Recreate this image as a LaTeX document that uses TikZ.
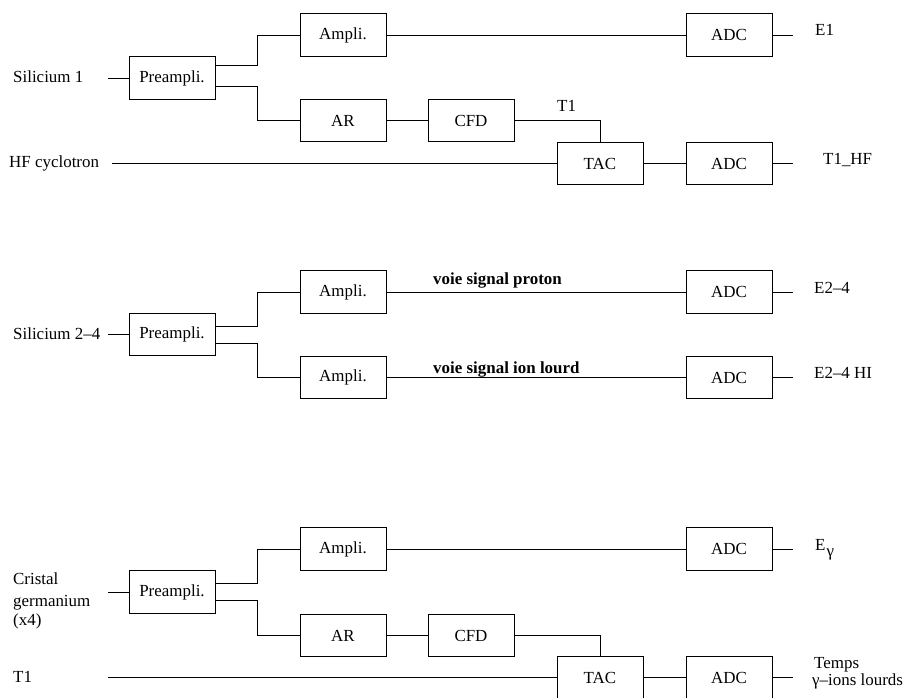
\documentclass[tikz,border=0pt]{standalone}
\usepackage{fontspec}
\setmainfont{Liberation Serif}

\tikzset{
  blk/.style={draw,line width=0.9bp,minimum width=86bp,minimum height=42.5bp,inner sep=0pt,font=\fontsize{17}{20}\selectfont},
  lbl/.style={inner sep=0pt,anchor=base west,font=\fontsize{17}{20}\selectfont},
  wire/.style={line width=0.9bp}
}

\begin{document}
\begin{tikzpicture}[x=1bp,y=-1bp]
  \useasboundingbox (0,0) rectangle (909,698);

  % Silicium 1
  \node[lbl] (si1) at (13,83) {Silicium 1};
  \coordinate (in1) at (108,78);
  \node[blk] (pre1) at (172,78) {Preampli.};
  \node[blk] (amp1) at (343,35) {Ampli.};
  \node[blk] (ar1) at (343,120.5) {AR};
  \node[blk] (cfd1) at (471,120.5) {CFD};
  \node[blk] (tac1) at (600,163.5) {TAC};
  \node[blk] (adcE1) at (729,35) {ADC};
  \node[blk] (adcT1) at (729,163.5) {ADC};
  \node[lbl] (t1a) at (557,112) {T1};
  \node[lbl] (hf) at (9,168) {HF cyclotron};
  \coordinate (hfin) at (112,163.5);
  \coordinate (outE1) at (793,35);
  \coordinate (outT1) at (793,163.5);
  \node[lbl] (e1) at (815,36) {E1};
  \node[lbl] (t1hf) at (823,165) {T1\_HF};

  \draw[wire] (in1) -- (pre1.west);
  \draw[wire] ([yshift=13bp]pre1.east) -- ++(42,0) |- (amp1.west);
  \draw[wire] ([yshift=-8.5bp]pre1.east) -- ++(42,0) |- (ar1.west);
  \draw[wire] (amp1) -- (adcE1);
  \draw[wire] (ar1) -- (cfd1);
  \draw[wire] (cfd1.east) -| (tac1.north);
  \draw[wire] (hfin) -- (tac1.west);
  \draw[wire] (tac1) -- (adcT1);
  \draw[wire] (adcE1.east) -- (outE1);
  \draw[wire] (adcT1.east) -- (outT1);

  % Silicium 2-4
  \node[lbl] (si2) at (13,339) {Silicium 2--4};
  \coordinate (in2) at (108,334.5);
  \node[blk] (pre2) at (172,334.5) {Preampli.};
  \node[blk] (ampP2) at (343,292) {Ampli.};
  \node[blk] (ampH2) at (343,377.5) {Ampli.};
  \node[blk] (adcP2) at (729,292) {ADC};
  \node[blk] (adcH2) at (729,377.5) {ADC};
  \node[lbl,font=\fontsize{17}{20}\selectfont\bfseries] (vp) at (433,284) {voie signal proton};
  \node[lbl,font=\fontsize{17}{20}\selectfont\bfseries] (vh) at (433,373) {voie signal ion lourd};
  \coordinate (outP2) at (793,292);
  \coordinate (outH2) at (793,377.5);
  \node[lbl] (e24) at (814,293) {E2--4};
  \node[lbl] (e24hi) at (814,378) {E2--4 HI};

  \draw[wire] (in2) -- (pre2.west);
  \draw[wire] ([yshift=8.5bp]pre2.east) -- ++(42,0) |- (ampP2.west);
  \draw[wire] ([yshift=-9bp]pre2.east) -- ++(42,0) |- (ampH2.west);
  \draw[wire] (ampP2) -- (adcP2);
  \draw[wire] (ampH2) -- (adcH2);
  \draw[wire] (adcP2.east) -- (outP2);
  \draw[wire] (adcH2.east) -- (outH2);

  % Cristal germanium
  \node[inner sep=0pt,anchor=west,align=left,font=\fontsize{17}{22}\selectfont] (ge) at (13,601) {Cristal\\germanium\\[-2bp](x4)};
  \coordinate (in3) at (108,592);
  \node[blk] (pre3) at (172,592) {Preampli.};
  \node[blk] (amp3) at (343,549) {Ampli.};
  \node[blk] (ar3) at (343,635.5) {AR};
  \node[blk] (cfd3) at (471,635.5) {CFD};
  \node[blk] (tac3) at (600,677.5) {TAC};
  \node[blk] (adcE3) at (729,549) {ADC};
  \node[blk] (adcT3) at (729,677.5) {ADC};
  \node[lbl] (t1b) at (13,682) {T1};
  \coordinate (t1in) at (108,677.5);
  \coordinate (outE3) at (793,549);
  \coordinate (outT3) at (793,677.5);
  \node[lbl] (eg) at (815,550) {E\kern1bp\raisebox{-6bp}{γ}};
  \node[inner sep=0pt,anchor=west,align=left,font=\fontsize{17}{20}\selectfont] (temps) at (812,673) {\hspace{2bp}Temps\\[-3bp]γ--ions lourds};

  \draw[wire] (in3) -- (pre3.west);
  \draw[wire] ([yshift=9bp]pre3.east) -- ++(42,0) |- (amp3.west);
  \draw[wire] ([yshift=-8bp]pre3.east) -- ++(42,0) |- (ar3.west);
  \draw[wire] (amp3) -- (adcE3);
  \draw[wire] (ar3) -- (cfd3);
  \draw[wire] (cfd3.east) -| (tac3.north);
  \draw[wire] (t1in) -- (tac3.west);
  \draw[wire] (tac3) -- (adcT3);
  \draw[wire] (adcE3.east) -- (outE3);
  \draw[wire] (adcT3.east) -- (outT3);

\end{tikzpicture}
\end{document}
